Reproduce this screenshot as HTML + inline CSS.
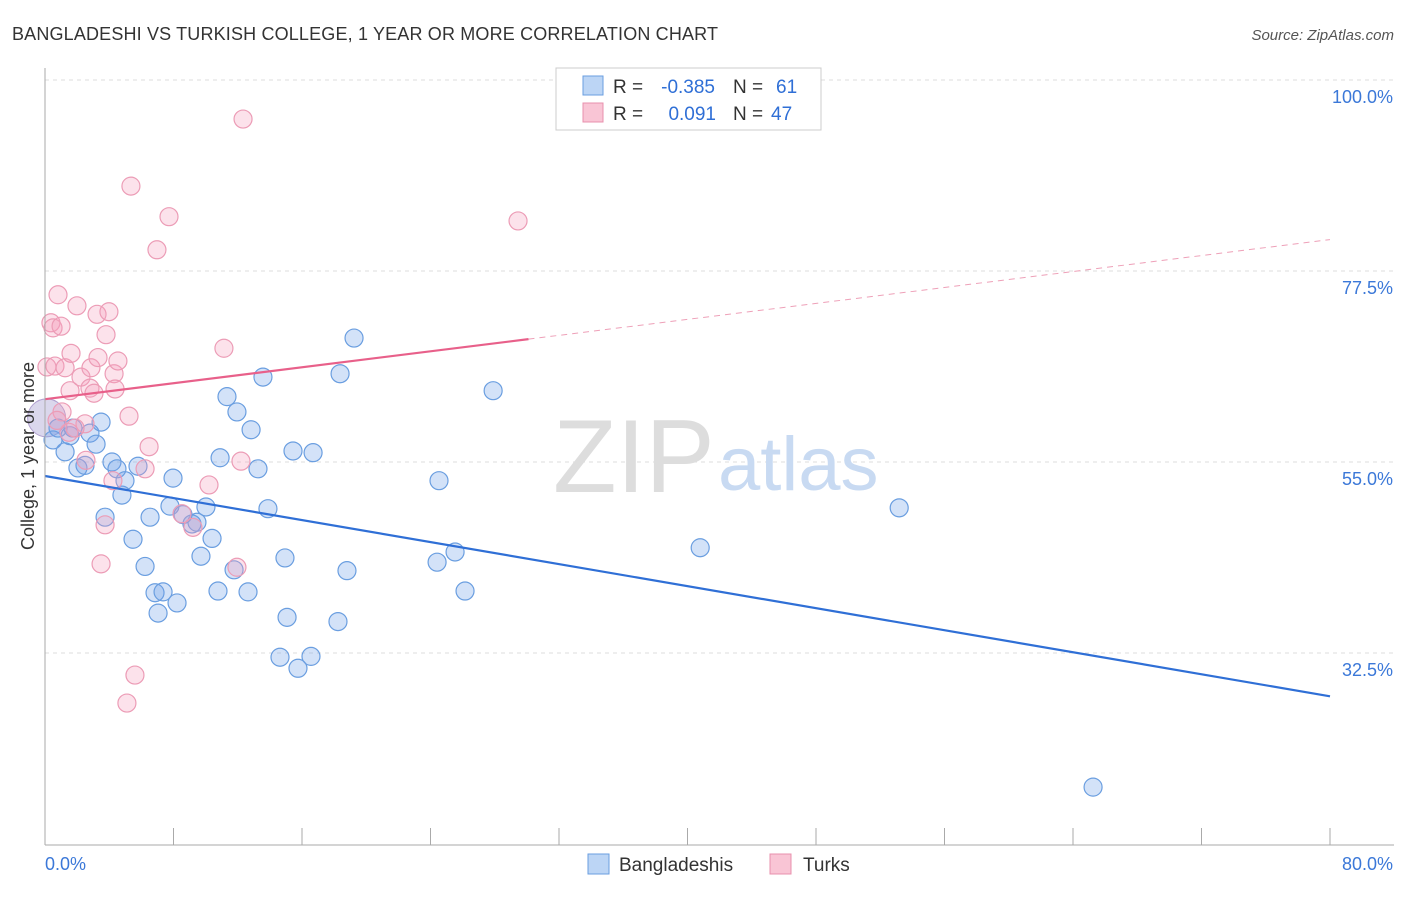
<!DOCTYPE html>
<html><head><meta charset="utf-8"><style>
body{margin:0;background:#fff;font-family:"Liberation Sans",sans-serif}
svg text{font-family:"Liberation Sans",sans-serif}
</style></head><body>
<svg id="chart" width="1406" height="892" xmlns="http://www.w3.org/2000/svg">
<text x="12" y="40" font-size="18" fill="#333" textLength="706">BANGLADESHI VS TURKISH COLLEGE, 1 YEAR OR MORE CORRELATION CHART</text>
<text x="1394" y="40" font-size="15" fill="#555" font-style="italic" text-anchor="end">Source: ZipAtlas.com</text>
<g id="grid"></g>
<g>
<text x="553" y="492" font-size="104" fill="#ddd" font-family="Liberation Serif,serif">ZIP</text>
<text x="718" y="490" font-size="76" fill="#c8daf2">atlas</text>
</g>
<g id="marks"></g>
<g id="axes"></g>
<text transform="translate(34,456) rotate(-90)" font-size="18" fill="#333" text-anchor="middle">College, 1 year or more</text>
<g font-size="19">
<rect x="556" y="68" width="265" height="62" fill="#fff" stroke="#ccc"/>
<rect x="583" y="76" width="20" height="19" fill="#bcd5f5" stroke="#6a9ee0"/>
<rect x="583" y="103" width="20" height="19" fill="#f9c5d5" stroke="#e890ad"/>
<text x="613" y="93" fill="#333">R =</text>
<text x="715" y="93" fill="#2f6fd6" text-anchor="end">-0.385</text>
<text x="733" y="93" fill="#333">N =</text>
<text x="776" y="93" fill="#2f6fd6">61</text>
<text x="613" y="120" fill="#333">R =</text>
<text x="716" y="120" fill="#2f6fd6" text-anchor="end">0.091</text>
<text x="733" y="120" fill="#333">N =</text>
<text x="771" y="120" fill="#2f6fd6">47</text>
</g>
<g>
<rect x="588" y="854" width="21" height="20" fill="#bcd5f5" stroke="#6a9ee0"/>
<text x="619" y="871" font-size="19" fill="#333">Bangladeshis</text>
<rect x="770" y="854" width="21" height="20" fill="#f9c5d5" stroke="#e890ad"/>
<text x="803" y="871" font-size="19" fill="#333">Turks</text>
</g>
</svg>
<script>
const yTicks=[100,77.5,55,32.5];
const yTickLabels=["100.0%","77.5%","55.0%","32.5%"];
const xTickLabels=["0.0%","80.0%"];
const blueX=[0.5,0.81,1.25,1.56,1.74,2.05,2.49,2.8,3.18,3.49,3.74,4.17,4.48,4.79,4.98,5.48,5.79,6.23,6.54,6.85,7.04,7.35,7.97,7.78,8.22,8.59,9.15,9.46,9.71,10.02,10.4,10.77,10.9,11.33,11.77,11.95,12.64,12.83,13.26,13.57,13.88,14.63,14.94,15.07,15.44,15.75,16.56,16.69,18.24,18.37,18.8,19.24,24.41,24.53,25.53,26.15,27.9,40.79,53.18,65.25];
const blueY=[57.6,59,56.2,58.1,59,54.3,54.6,58.4,57.1,59.7,48.5,55,54.2,51.1,52.8,45.9,54.5,42.7,48.5,39.6,37.2,39.7,53.1,49.8,38.4,48.8,47.7,47.9,43.9,49.7,46,39.8,55.5,62.7,42.3,60.9,39.7,58.8,54.2,65,49.5,32,43.7,36.7,56.3,30.7,32.1,56.1,36.2,65.4,42.2,69.6,43.2,52.8,44.4,39.8,63.4,44.9,49.6,16.7];
const pinkX=[0.37,0.5,0.81,1,0.12,0.62,1.25,1.62,1.99,1.56,2.24,2.8,2.86,3.05,3.24,3.3,3.8,3.98,4.3,4.36,4.54,1.06,1.49,2.49,2.55,4.23,3.74,3.49,5.23,5.35,6.48,6.23,6.97,7.72,5.6,5.1,8.53,9.21,10.21,11.14,11.95,12.2,12.33,29.45,1.87,0.75];
const pinkY=[71.4,70.8,74.7,71,66.2,66.3,66.1,67.8,73.4,63.4,65,63.7,66.1,63.1,72.4,67.3,70,72.7,65.4,63.6,66.9,60.9,58.5,59.5,55.2,52.8,47.6,43,60.4,87.5,56.8,54.2,80,83.9,29.9,26.6,48.9,47.3,52.3,68.4,42.6,55.1,95.4,83.4,59,59.9];
const blueTrend=[53.35,27.4];
const pinkTrend=[62.4,81.2];
const pinkSolidEnd=30.1;
const NS="http://www.w3.org/2000/svg";
const X=v=>45+v/80*1285;
const Y=v=>80+(100-v)*191/22.5;
function mk(tag,attrs,parent){const e=document.createElementNS(NS,tag);for(const k in attrs)e.setAttribute(k,attrs[k]);parent.appendChild(e);return e;}
const grid=document.getElementById('grid'),axes=document.getElementById('axes'),marks=document.getElementById('marks');
yTicks.forEach((t,i)=>{
 const l=mk('line',{x1:45,x2:1394,y1:Y(t),y2:Y(t),stroke:'#ddd','stroke-dasharray':'4,4'},grid);
 
 
 const tx=mk('text',{x:1393,y:Y(t)+23,'font-size':18,fill:'#3b78d8','text-anchor':'end'},axes);
 tx.textContent=yTickLabels[i];
 
 
});
const ax=mk('line',{x1:45,x2:1394,y1:845,y2:845,stroke:'#aaa'},axes);


const ay=mk('line',{x1:45,x2:45,y1:68,y2:845,stroke:'#aaa'},axes);


for(let i=0;i<=10;i++){const t=mk('line',{x1:X(i*8),x2:X(i*8),y1:828,y2:845,stroke:'#aaa'},axes);
 
 }
[[0,'start',45],[80,'end',1393]].forEach((d,i)=>{const t=mk('text',{x:d[2],y:870,'font-size':18,fill:'#3b78d8','text-anchor':d[1]},axes);t.textContent=xTickLabels[i];
 
 });
const big1=mk('circle',{cx:X(0.1),cy:Y(60.2),r:19,fill:'rgba(150,140,200,0.35)',stroke:'#b0a0d0'},marks);


blueX.forEach((x,i)=>{const c=mk('circle',{cx:X(x),cy:Y(blueY[i]),r:9,fill:'rgba(110,160,232,0.3)',stroke:'#6a9ee0','stroke-width':1.2},marks);
 
 });
pinkX.forEach((x,i)=>{const c=mk('circle',{cx:X(x),cy:Y(pinkY[i]),r:9,fill:'rgba(244,160,188,0.3)',stroke:'#ec9cb6','stroke-width':1.2},marks);
 
 });
const bt=mk('line',{x1:X(0),y1:Y(blueTrend[0]),x2:X(80),y2:Y(blueTrend[1]),stroke:'#2f6fd6','stroke-width':2.2},marks);


const pe=pinkTrend[0]+(pinkTrend[1]-pinkTrend[0])*pinkSolidEnd/80;
const pt=mk('line',{x1:X(0),y1:Y(pinkTrend[0]),x2:X(pinkSolidEnd),y2:Y(pe),stroke:'#e8608a','stroke-width':2.2},marks);


const pd=mk('line',{x1:X(pinkSolidEnd),y1:Y(pe),x2:X(80),y2:Y(pinkTrend[1]),stroke:'#eea0b8','stroke-width':1,'stroke-dasharray':'6,5'},marks);


</script>
</body></html>
